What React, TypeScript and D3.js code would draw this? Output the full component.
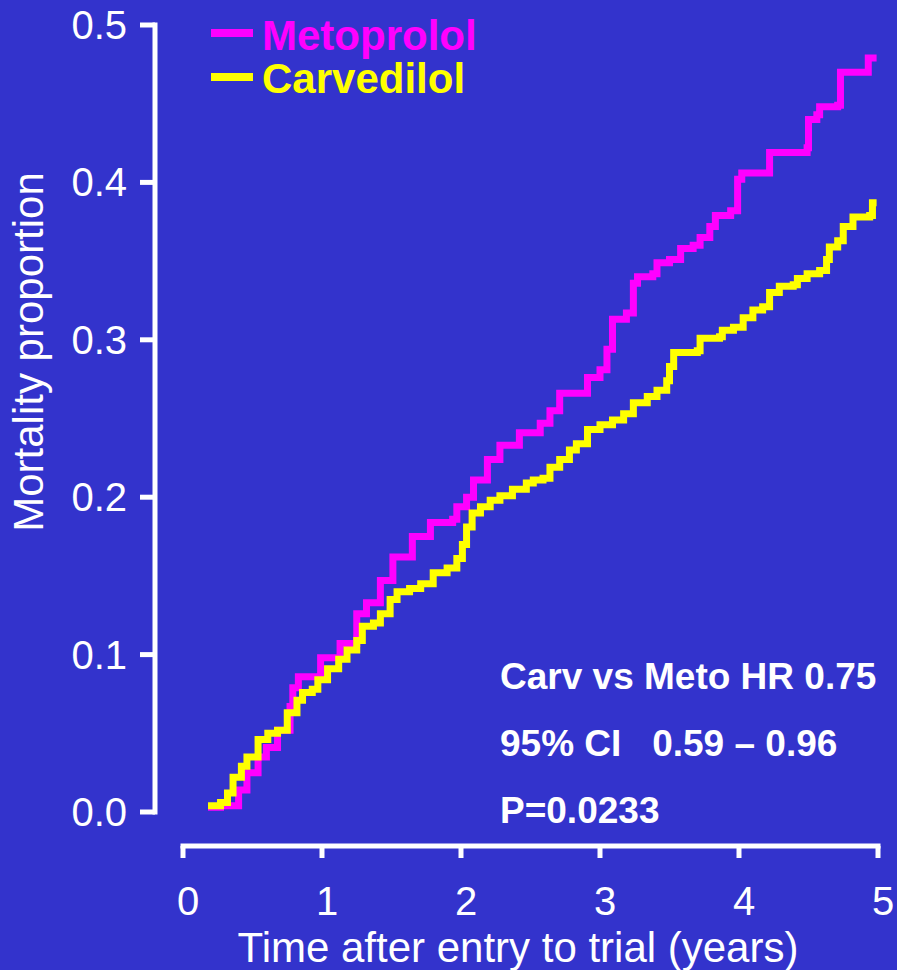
import * as d3 from "d3";
import React from "react";

// Kaplan-Meier mortality (time in years, proportion dead)
const metoTime = [0.18, 0.27, 0.4, 0.46, 0.54, 0.6, 0.68, 0.77, 0.79, 0.83, 0.94, 0.99, 1.13, 1.25, 1.32, 1.42, 1.51, 1.65, 1.78, 1.94, 1.97, 2.04, 2.09, 2.19, 2.28, 2.42, 2.57, 2.64, 2.71, 2.83, 2.91, 3.0, 3.05, 3.09, 3.19, 3.24, 3.27, 3.38, 3.41, 3.5, 3.58, 3.67, 3.72, 3.79, 3.83, 3.94, 3.99, 4.02, 4.2, 4.22, 4.42, 4.49, 4.5, 4.56, 4.58, 4.71, 4.73, 4.92, 4.93, 4.99];
const metoRisk = [0.003, 0.004, 0.014, 0.025, 0.035, 0.041, 0.052, 0.067, 0.079, 0.086, 0.086, 0.098, 0.107, 0.126, 0.133, 0.147, 0.162, 0.175, 0.184, 0.186, 0.194, 0.2, 0.211, 0.224, 0.233, 0.241, 0.247, 0.255, 0.266, 0.266, 0.276, 0.281, 0.294, 0.313, 0.317, 0.336, 0.34, 0.342, 0.349, 0.351, 0.358, 0.36, 0.365, 0.372, 0.379, 0.382, 0.402, 0.406, 0.406, 0.419, 0.419, 0.422, 0.44, 0.443, 0.448, 0.449, 0.47, 0.47, 0.479, 0.479];

const carvTime = [0.18, 0.27, 0.32, 0.36, 0.42, 0.46, 0.54, 0.61, 0.68, 0.75, 0.82, 0.86, 0.93, 0.97, 1.04, 1.12, 1.18, 1.25, 1.29, 1.37, 1.42, 1.49, 1.54, 1.63, 1.71, 1.8, 1.9, 1.97, 2.01, 2.04, 2.08, 2.14, 2.21, 2.28, 2.37, 2.47, 2.52, 2.59, 2.64, 2.71, 2.78, 2.83, 2.91, 3.0, 3.09, 3.17, 3.24, 3.34, 3.41, 3.48, 3.5, 3.53, 3.7, 3.72, 3.86, 3.88, 3.96, 4.03, 4.1, 4.17, 4.22, 4.29, 4.39, 4.42, 4.49, 4.58, 4.63, 4.65, 4.71, 4.75, 4.82, 4.94, 4.96, 4.99];
const carvRisk = [0.004, 0.006, 0.012, 0.022, 0.029, 0.035, 0.046, 0.05, 0.052, 0.063, 0.071, 0.076, 0.078, 0.084, 0.091, 0.097, 0.103, 0.109, 0.118, 0.12, 0.126, 0.135, 0.14, 0.142, 0.145, 0.152, 0.155, 0.161, 0.17, 0.181, 0.19, 0.194, 0.198, 0.201, 0.205, 0.209, 0.211, 0.212, 0.219, 0.224, 0.23, 0.234, 0.243, 0.246, 0.249, 0.253, 0.26, 0.264, 0.268, 0.274, 0.283, 0.292, 0.293, 0.301, 0.302, 0.306, 0.308, 0.314, 0.319, 0.321, 0.33, 0.334, 0.335, 0.339, 0.342, 0.344, 0.351, 0.359, 0.363, 0.372, 0.378, 0.379, 0.387, 0.387];

const xTicks = [0, 1, 2, 3, 4, 5];
const yTicks = [0, 0.1, 0.2, 0.3, 0.4, 0.5];
const seriesNames = ["Metoprolol", "Carvedilol"];
const seriesColors = ["#ff00ff", "#ffff00"];
const statLines = ["Carv vs Meto HR 0.75", "95% CI   0.59 \u2013 0.96", "P=0.0233"];

const W = 897;
const H = 970;
const BG = "#3333cc";
const FONT = "'Liberation Sans', Arial, Helvetica, sans-serif";

const x = d3.scaleLinear().domain([0, 5]).range([183, 878]);
const y = d3.scaleLinear().domain([0, 0.5]).range([812, 25]);

const stepLine = d3.line<[number, number]>()
  .x((d) => x(d[0]))
  .y((d) => y(d[1]))
  .curve(d3.curveStepAfter);

export default function App() {
  const series = [
    d3.zip(metoTime, metoRisk) as [number, number][],
    d3.zip(carvTime, carvRisk) as [number, number][],
  ];
  const yAxisX = 155;
  const xAxisY = 846;

  return (
    <svg width={W} height={H} style={{ position: "absolute", left: 0, top: 0 }} fontFamily={FONT}>
      <rect width={W} height={H} fill={BG} />

      {/* y axis */}
      <line x1={yAxisX} x2={yAxisX} y1={y(0.5) - 2.5} y2={y(0) + 2.5} stroke="#fff" strokeWidth={5} />
      {yTicks.map((t) => (
        <g key={t}>
          <line x1={140} x2={yAxisX} y1={y(t)} y2={y(t)} stroke="#fff" strokeWidth={5} />
          <text x={127} y={y(t) + 14} fill="#fff" fontSize={40} textAnchor="end">{t.toFixed(1)}</text>
        </g>
      ))}
      <text transform="translate(43,352) rotate(-90)" fill="#fff" fontSize={42} textAnchor="middle">
        Mortality proportion
      </text>

      {/* x axis */}
      <line x1={x(0) - 2.5} x2={x(5) + 2.5} y1={xAxisY} y2={xAxisY} stroke="#fff" strokeWidth={5} />
      {xTicks.map((t) => (
        <g key={t}>
          <line x1={x(t)} x2={x(t)} y1={xAxisY} y2={858} stroke="#fff" strokeWidth={5} />
          <text x={x(t) + 5} y={915} fill="#fff" fontSize={40} textAnchor="middle">{t}</text>
        </g>
      ))}
      <text x={518} y={962} fill="#fff" fontSize={42} textAnchor="middle">
        Time after entry to trial (years)
      </text>

      {/* curves */}
      {series.map((s, i) => (
        <path key={i} d={stepLine(s) || ""} fill="none" stroke={seriesColors[i]} strokeWidth={7} strokeLinejoin="miter" />
      ))}

      {/* legend */}
      {seriesNames.map((n, i) => (
        <g key={n}>
          <line x1={211} x2={253} y1={33 + i * 44} y2={33 + i * 44} stroke={seriesColors[i]} strokeWidth={8} />
          <text x={262} y={50 + i * 43} fill={seriesColors[i]} fontSize={42} fontWeight="bold">{n}</text>
        </g>
      ))}

      {/* stats */}
      {statLines.map((s, i) => (
        <text key={i} x={500} y={689 + i * 67} fill="#fff" fontSize={37} fontWeight="bold" style={{ whiteSpace: "pre" }}>
          {s}
        </text>
      ))}
    </svg>
  );
}
